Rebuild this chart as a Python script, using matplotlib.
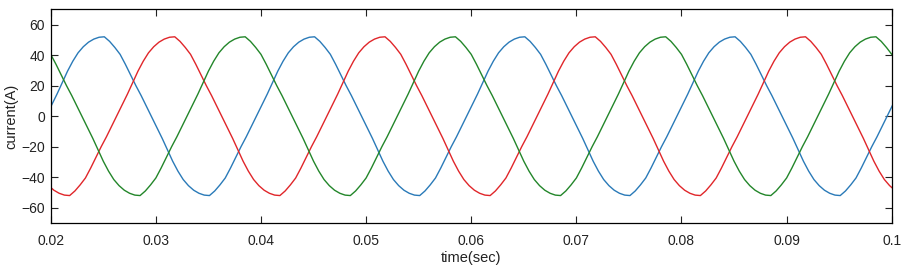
import numpy as np
import matplotlib
matplotlib.use('Agg')
import matplotlib.pyplot as plt

plt.rcParams['font.family'] = ['Liberation Sans', 'DejaVu Sans']

dt = 0.0005
t0_a = 0.0196
t0_b = 0.0198
t0_c = 0.0200

i_a = [0.5, 7.5, 14.5, 22, 29.5, 36, 41.5, 45.5, 48.5, 50.5, 51.7,
       52, 49, 45, 40.5, 34, 27, 20, 13.5, 6.5, -0.5, -7.5, -14.5, -22, -29.5, -36, -41.5, -45.5, -48.5, -50.5, -51.7,
       -52, -49, -45, -40.5, -34, -27, -20, -13.5, -6.5, 0.5, 7.5, 14.5, 22, 29.5, 36, 41.5, 45.5, 48.5, 50.5, 51.7,
       52, 49, 45, 40.5, 34, 27, 20, 13.5, 6.5, -0.5, -7.5, -14.5, -22, -29.5, -36, -41.5, -45.5, -48.5, -50.5, -51.7,
       -52, -49, -45, -40.5, -34, -27, -20, -13.5, -6.5, 0.5, 7.5, 14.5, 22, 29.5, 36, 41.5, 45.5, 48.5, 50.5, 51.7,
       52, 49, 45, 40.5, 34, 27, 20, 13.5, 6.5, -0.5, -7.5, -14.5, -22, -29.5, -36, -41.5, -45.5, -48.5, -50.5, -51.7,
       -52, -49, -45, -40.5, -34, -27, -20, -13.5, -6.5, 0.5, 7.5, 14.5, 22, 29.5, 36, 41.5, 45.5, 48.5, 50.5, 51.7,
       52, 49, 45, 40.5, 34, 27, 20, 13.5, 6.5, -0.5, -7.5, -14.5, -22, -29.5, -36, -41.5, -45.5, -48.5, -50.5, -51.7,
       -52, -49, -45, -40.5, -34, -27, -20, -13.5, -6.5, 0.5, 7.5]

i_b = [-45.5, -48.5, -50.5, -51.7,
       -52, -49, -45, -40.5, -34, -27, -20, -13.5, -6.5, 0.5, 7.5, 14.5, 22, 29.5, 36, 41.5, 45.5, 48.5, 50.5, 51.7,
       52, 49, 45, 40.5, 34, 27, 20, 13.5, 6.5, -0.5, -7.5, -14.5, -22, -29.5, -36, -41.5, -45.5, -48.5, -50.5, -51.7,
       -52, -49, -45, -40.5, -34, -27, -20, -13.5, -6.5, 0.5, 7.5, 14.5, 22, 29.5, 36, 41.5, 45.5, 48.5, 50.5, 51.7,
       52, 49, 45, 40.5, 34, 27, 20, 13.5, 6.5, -0.5, -7.5, -14.5, -22, -29.5, -36, -41.5, -45.5, -48.5, -50.5, -51.7,
       -52, -49, -45, -40.5, -34, -27, -20, -13.5, -6.5, 0.5, 7.5, 14.5, 22, 29.5, 36, 41.5, 45.5, 48.5, 50.5, 51.7,
       52, 49, 45, 40.5, 34, 27, 20, 13.5, 6.5, -0.5, -7.5, -14.5, -22, -29.5, -36, -41.5, -45.5, -48.5, -50.5, -51.7,
       -52, -49, -45, -40.5, -34, -27, -20, -13.5, -6.5, 0.5, 7.5, 14.5, 22, 29.5, 36, 41.5, 45.5, 48.5, 50.5, 51.7,
       52, 49, 45, 40.5, 34, 27, 20, 13.5, 6.5, -0.5, -7.5, -14.5, -22, -29.5, -36, -41.5, -45.5, -48.5]

i_c = [40.5, 34, 27, 20, 13.5, 6.5, -0.5, -7.5, -14.5, -22, -29.5, -36, -41.5, -45.5, -48.5, -50.5, -51.7,
       -52, -49, -45, -40.5, -34, -27, -20, -13.5, -6.5, 0.5, 7.5, 14.5, 22, 29.5, 36, 41.5, 45.5, 48.5, 50.5, 51.7,
       52, 49, 45, 40.5, 34, 27, 20, 13.5, 6.5, -0.5, -7.5, -14.5, -22, -29.5, -36, -41.5, -45.5, -48.5, -50.5, -51.7,
       -52, -49, -45, -40.5, -34, -27, -20, -13.5, -6.5, 0.5, 7.5, 14.5, 22, 29.5, 36, 41.5, 45.5, 48.5, 50.5, 51.7,
       52, 49, 45, 40.5, 34, 27, 20, 13.5, 6.5, -0.5, -7.5, -14.5, -22, -29.5, -36, -41.5, -45.5, -48.5, -50.5, -51.7,
       -52, -49, -45, -40.5, -34, -27, -20, -13.5, -6.5, 0.5, 7.5, 14.5, 22, 29.5, 36, 41.5, 45.5, 48.5, 50.5, 51.7,
       52, 49, 45, 40.5, 34, 27, 20, 13.5, 6.5, -0.5, -7.5, -14.5, -22, -29.5, -36, -41.5, -45.5, -48.5, -50.5, -51.7,
       -52, -49, -45, -40.5, -34, -27, -20, -13.5, -6.5, 0.5, 7.5, 14.5, 22, 29.5, 36, 41.5, 45.5, 48.5, 50.5, 51.7,
       52, 49, 45, 40.5]

xticks = [0.02, 0.03, 0.04, 0.05, 0.06, 0.07, 0.08, 0.09, 0.1]
xticklabels = ['0.02', '0.03', '0.04', '0.05', '0.06', '0.07', '0.08', '0.09', '0.1']
yticks = [-60, -40, -20, 0, 20, 40, 60]


def time_axis(t0, values):
    return t0 + dt * np.arange(len(values))


fig = plt.figure(figsize=(9.09, 2.74), dpi=100)
ax = fig.add_axes([0.0558, 0.186, 0.9252, 0.780])

ax.plot(time_axis(t0_a, i_a), i_a, color='#2a7ab8', lw=1.0)
ax.plot(time_axis(t0_b, i_b), i_b, color='#e0262a', lw=1.0)
ax.plot(time_axis(t0_c, i_c), i_c, color='#23862a', lw=1.0)

ax.set_xlim(0.02, 0.1)
ax.set_ylim(-70, 70)
ax.set_xticks(xticks)
ax.set_xticklabels(xticklabels)
ax.set_yticks(yticks)
ax.tick_params(direction='in', length=5, width=0.8, top=True, right=True,
               labelsize=10, colors='#222222')
ax.tick_params(axis='x', pad=8)
ax.tick_params(axis='y', pad=4)
for s in ax.spines.values():
    s.set_linewidth(0.9)

ax.set_xlabel('time(sec)', fontsize=10.5, labelpad=2, color='#222222')
ax.set_ylabel('current(A)', fontsize=10.5, labelpad=2, color='#222222')

fig.savefig('out.png', dpi=100)
